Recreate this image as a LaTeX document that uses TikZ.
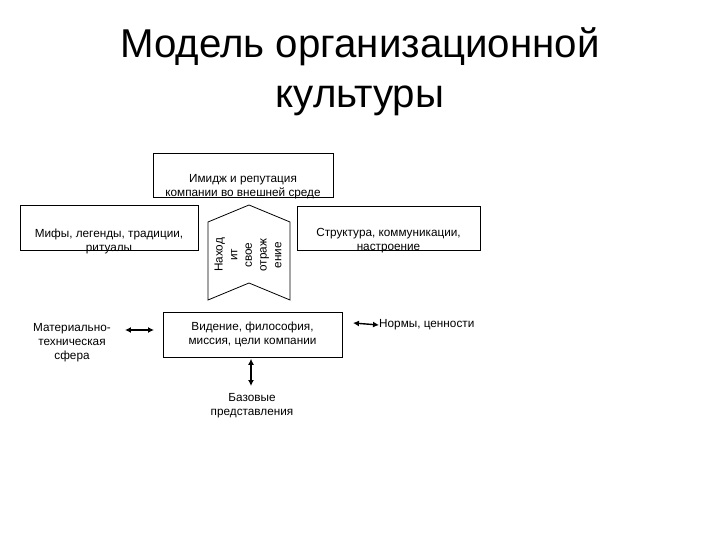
\documentclass[tikz,border=0pt]{standalone}
\usepackage{fontspec}
\setmainfont{Liberation Sans}
\usetikzlibrary{arrows.meta}
\begin{document}
\begin{tikzpicture}[x=1bp,y=-1bp,
  box/.style={draw=black,line width=0.8pt,minimum width=#1,minimum height=44bp,inner sep=0pt,anchor=north west},
  lbl/.style={font=\fontsize{11.8}{14}\selectfont,align=center,inner sep=0pt},
  dbl/.style={{Latex[length=6pt,width=6pt]}-{Latex[length=6pt,width=6pt]},line width=1.4pt}]
\useasboundingbox (0,0) rectangle (720,540);
\node[font=\fontsize{40.4}{50}\selectfont,align=center] (title) at (360,72) {Модель организационной\\культуры};
% boxes
\node[box=180bp] (img) at (153,153) {};
\node[box=178bp,minimum height=45bp] (myth) at (20,205) {};
\node[box=183bp] (struct) at (297,206) {};
\node[box=179bp,minimum height=45bp] (vision) at (163,312) {};
\node[lbl] (imgt) at (243,187) {Имидж и репутация\\компании во внешней среде};
\node[lbl] (mytht) at (109,241) {Мифы, легенды, традиции,\\ритуалы};
\node[lbl] (structt) at (388.5,241) {Структура, коммуникации,\\настроение};
\node[lbl] (visiont) at (252.5,334.5) {Видение, философия,\\миссия, цели компании};
\node[lbl] (mat) at (72,343) {Материально-\\техническая\\сфера};
\node[lbl,anchor=west] (norm) at (379,325) {Нормы, ценности};
\node[lbl] (base) at (252,406) {Базовые\\представления};
% chevron
\draw[line width=0.8pt,fill=white] (208,222) -- (249,205) -- (290,222) -- (290,300) -- (249,283) -- (208,300) -- cycle;
\node[lbl,rotate=90,font=\fontsize{11.8}{14.7}\selectfont] (chev) at (248,255) {Наход\\ит\\свое\\отраж\\ение};
% connectors
\coordinate (la) at (125,330);
\coordinate (lb) at (154,330);
\draw[dbl] (la) -- (lb);
\coordinate (ra) at (353,323);
\draw[dbl] (ra) -- (norm.west);
\coordinate (bb) at (251,386);
\draw[dbl] (vision.south -| bb) ++(0,1) -- (bb);
\end{tikzpicture}
\end{document}
